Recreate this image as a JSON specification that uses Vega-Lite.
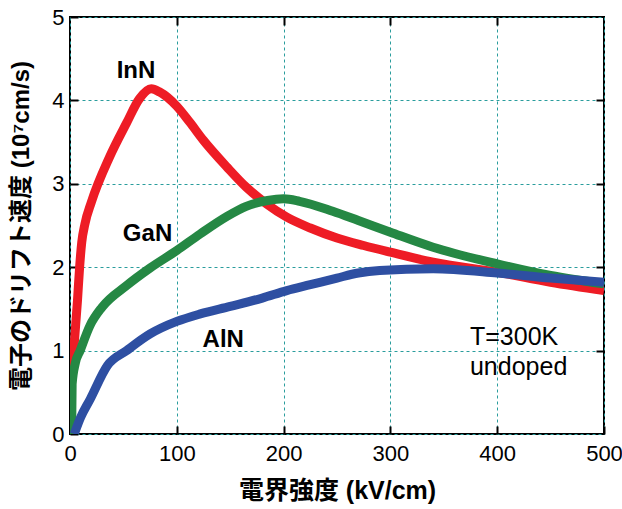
{
  "$schema": "https://vega.github.io/schema/vega-lite/v6.json",
  "width": 534,
  "height": 417,
  "autosize": "none",
  "padding": {"left": 70, "top": 17, "right": 18, "bottom": 75},
  "background": "white",
  "config": {
    "font": "Liberation Sans, Noto Sans CJK JP",
    "view": {"stroke": "black", "strokeWidth": 2}
  },
  "datasets": {
    "curves": [
      {"m": "InN", "E": 1, "v": 0.57},
      {"m": "InN", "E": 7, "v": 1.6},
      {"m": "InN", "E": 9, "v": 2.0},
      {"m": "InN", "E": 11, "v": 2.3},
      {"m": "InN", "E": 14, "v": 2.52},
      {"m": "InN", "E": 20, "v": 2.78},
      {"m": "InN", "E": 37, "v": 3.32},
      {"m": "InN", "E": 53, "v": 3.73},
      {"m": "InN", "E": 65, "v": 4.02},
      {"m": "InN", "E": 76, "v": 4.14},
      {"m": "InN", "E": 84, "v": 4.1},
      {"m": "InN", "E": 100, "v": 3.93},
      {"m": "InN", "E": 112, "v": 3.74},
      {"m": "InN", "E": 125, "v": 3.52},
      {"m": "InN", "E": 147, "v": 3.2},
      {"m": "InN", "E": 165, "v": 2.96},
      {"m": "InN", "E": 184, "v": 2.76},
      {"m": "InN", "E": 203, "v": 2.6},
      {"m": "InN", "E": 225, "v": 2.47},
      {"m": "InN", "E": 250, "v": 2.35},
      {"m": "InN", "E": 275, "v": 2.26},
      {"m": "InN", "E": 300, "v": 2.18},
      {"m": "InN", "E": 340, "v": 2.06},
      {"m": "InN", "E": 400, "v": 1.94},
      {"m": "InN", "E": 450, "v": 1.82},
      {"m": "InN", "E": 500, "v": 1.72},
      {"m": "GaN", "E": 1.5, "v": 0},
      {"m": "GaN", "E": 2, "v": 0.6},
      {"m": "GaN", "E": 5, "v": 0.85},
      {"m": "GaN", "E": 9.5, "v": 1.0},
      {"m": "GaN", "E": 18.7, "v": 1.3},
      {"m": "GaN", "E": 30, "v": 1.52},
      {"m": "GaN", "E": 53, "v": 1.78},
      {"m": "GaN", "E": 75, "v": 1.99},
      {"m": "GaN", "E": 100, "v": 2.2},
      {"m": "GaN", "E": 122, "v": 2.4},
      {"m": "GaN", "E": 147, "v": 2.61},
      {"m": "GaN", "E": 165, "v": 2.73},
      {"m": "GaN", "E": 185, "v": 2.8},
      {"m": "GaN", "E": 200, "v": 2.82},
      {"m": "GaN", "E": 215, "v": 2.79},
      {"m": "GaN", "E": 246, "v": 2.67},
      {"m": "GaN", "E": 270, "v": 2.56},
      {"m": "GaN", "E": 300, "v": 2.42},
      {"m": "GaN", "E": 340, "v": 2.24},
      {"m": "GaN", "E": 400, "v": 2.04},
      {"m": "GaN", "E": 450, "v": 1.9},
      {"m": "GaN", "E": 500, "v": 1.8},
      {"m": "AlN", "E": 4, "v": 0},
      {"m": "AlN", "E": 10, "v": 0.2},
      {"m": "AlN", "E": 19, "v": 0.42},
      {"m": "AlN", "E": 35, "v": 0.82},
      {"m": "AlN", "E": 53, "v": 1.0},
      {"m": "AlN", "E": 75, "v": 1.2},
      {"m": "AlN", "E": 100, "v": 1.35},
      {"m": "AlN", "E": 122, "v": 1.44},
      {"m": "AlN", "E": 150, "v": 1.53},
      {"m": "AlN", "E": 180, "v": 1.63},
      {"m": "AlN", "E": 203, "v": 1.72},
      {"m": "AlN", "E": 225, "v": 1.79},
      {"m": "AlN", "E": 250, "v": 1.87},
      {"m": "AlN", "E": 270, "v": 1.93},
      {"m": "AlN", "E": 290, "v": 1.96},
      {"m": "AlN", "E": 340, "v": 1.98},
      {"m": "AlN", "E": 400, "v": 1.93},
      {"m": "AlN", "E": 450, "v": 1.87},
      {"m": "AlN", "E": 500, "v": 1.82}
    ],
    "names": [
      {"E": 61.8, "v": 4.265, "label": "InN"},
      {"E": 72.6, "v": 2.32, "label": "GaN"},
      {"E": 143.5, "v": 1.043, "label": "AlN"}
    ],
    "notes": [
      {"E": 374.5, "v": 1.064, "label": "T=300K"},
      {"E": 374.5, "v": 0.703, "label": "undoped"}
    ]
  },
  "layer": [
    {
      "data": {"name": "curves"},
      "mark": {"type": "line", "strokeWidth": 9, "interpolate": "monotone", "clip": true},
      "encoding": {
        "x": {
          "field": "E", "type": "quantitative",
          "scale": {"domain": [0, 500], "nice": false, "zero": false},
          "axis": {
            "orient": "bottom", "values": [0, 100, 200, 300, 400, 500],
            "title": "電界強度 (kV/cm)", "titleFontSize": 25, "titleFontWeight": "bold", "titleColor": "black", "titlePadding": 14,
            "labelFontSize": 22, "labelColor": "black", "labelPadding": 17, "labelFlush": false,
            "domain": false, "tickSize": -8, "tickWidth": 2, "tickColor": "black",
            "grid": true, "gridColor": "#2a9d9d", "gridDash": [3, 3], "gridWidth": 1
          }
        },
        "y": {
          "field": "v", "type": "quantitative",
          "scale": {"domain": [0, 5], "nice": false, "zero": false},
          "axis": {
            "orient": "left", "values": [0, 1, 2, 3, 4, 5],
            "title": "電子のドリフト速度 (10⁷cm/s)", "titleFontSize": 24, "titleFontWeight": "bold", "titleColor": "black", "titlePadding": 18,
            "labelFontSize": 22, "labelColor": "black", "labelPadding": 14, "labelFlush": false,
            "domain": false, "tickSize": -8, "tickWidth": 2, "tickColor": "black",
            "grid": true, "gridColor": "#2a9d9d", "gridDash": [3, 3], "gridWidth": 1
          }
        },
        "color": {
          "field": "m", "type": "nominal",
          "scale": {"domain": ["AlN", "GaN", "InN"], "range": ["#2e4fa2", "#258844", "#ee1c25"]},
          "legend": null
        }
      }
    },
    {
      "data": {"name": "names"},
      "mark": {"type": "text", "fontSize": 24, "fontWeight": "bold", "color": "black", "align": "center", "baseline": "alphabetic"},
      "encoding": {
        "x": {
          "field": "E", "type": "quantitative",
          "scale": {"domain": [0, 500], "nice": false, "zero": false},
          "axis": {"orient": "top", "values": [100, 200, 300, 400], "labels": false, "title": null, "domain": false, "grid": false, "tickSize": -8, "tickWidth": 2, "tickColor": "black"}
        },
        "y": {
          "field": "v", "type": "quantitative",
          "scale": {"domain": [0, 5], "nice": false, "zero": false},
          "axis": {"orient": "right", "values": [1, 2, 3, 4], "labels": false, "title": null, "domain": false, "grid": false, "tickSize": -8, "tickWidth": 2, "tickColor": "black"}
        },
        "text": {"field": "label"}
      }
    },
    {
      "data": {"name": "notes"},
      "mark": {"type": "text", "fontSize": 25, "color": "black", "align": "left", "baseline": "alphabetic"},
      "encoding": {
        "x": {"field": "E", "type": "quantitative", "scale": {"domain": [0, 500], "nice": false, "zero": false}, "axis": null},
        "y": {"field": "v", "type": "quantitative", "scale": {"domain": [0, 5], "nice": false, "zero": false}, "axis": null},
        "text": {"field": "label"}
      }
    }
  ],
  "resolve": {"axis": {"x": "independent", "y": "independent"}}
}
